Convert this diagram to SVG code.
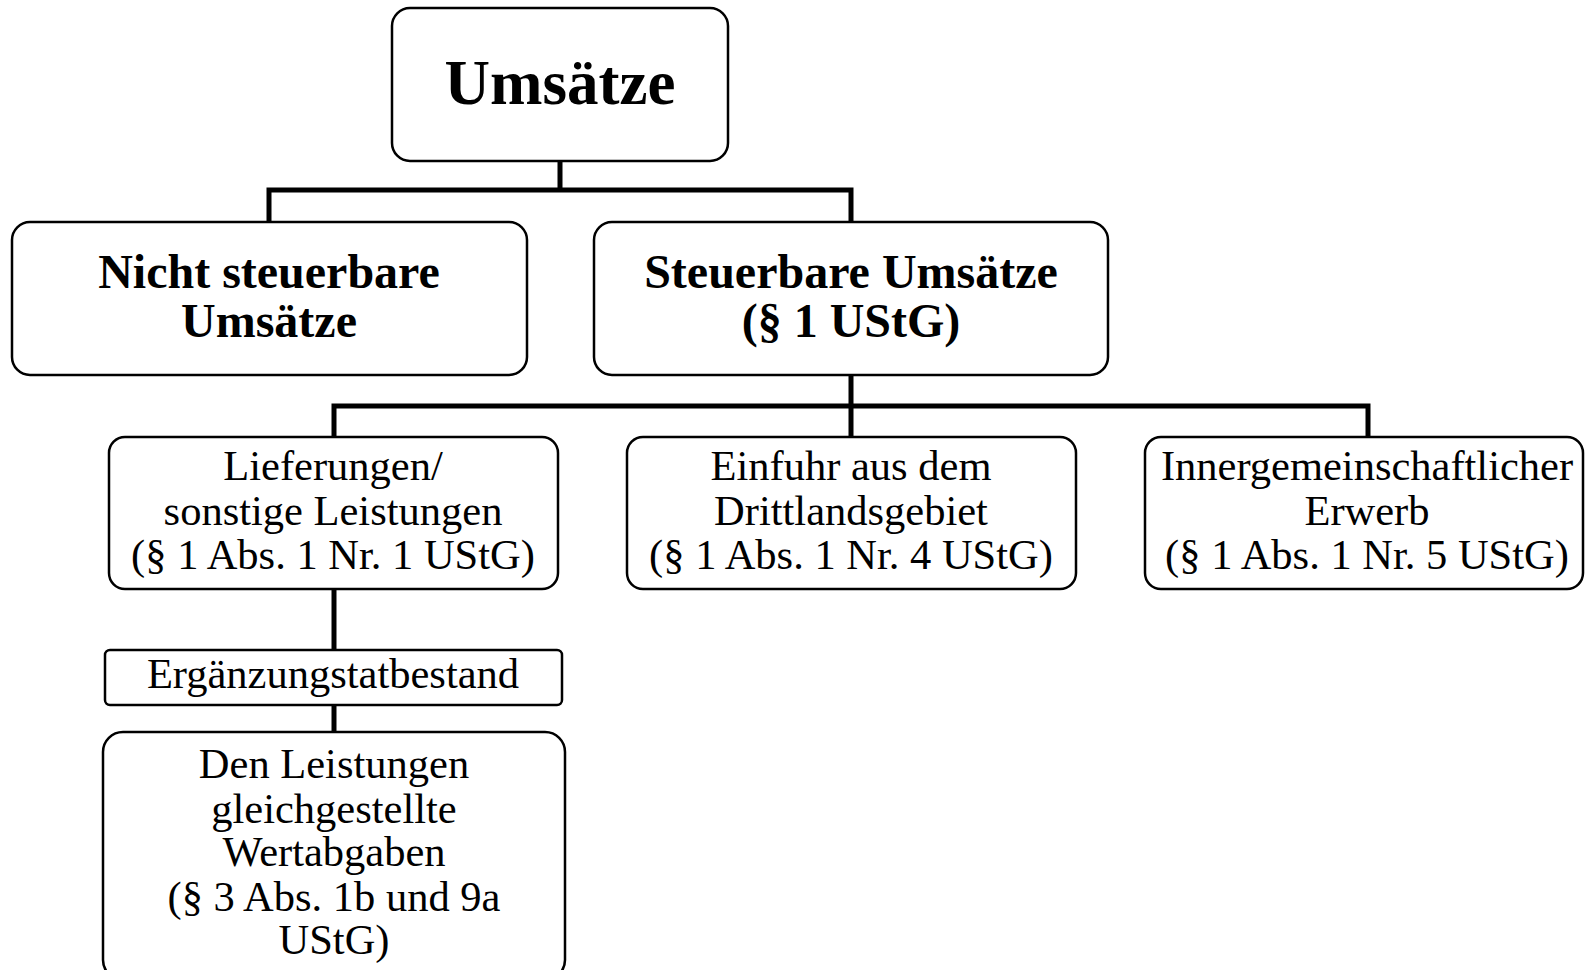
<svg xmlns="http://www.w3.org/2000/svg" width="1585" height="970" viewBox="0 0 1585 970">
  <style>
    .box { fill: #ffffff; stroke: #000000; stroke-width: 2.5; }
    .link { fill: none; stroke: #000000; stroke-width: 5; }
    text { font-family: "Liberation Serif", "Times New Roman", serif; fill: #000000; text-anchor: middle; }
    .title { font-size: 63px; font-weight: bold; }
    .head { font-size: 48px; font-weight: bold; }
    .body { font-size: 42.5px; }
  </style>

  <!-- connectors -->
  <g id="connectors">
    <path class="link" d="M560 162 V190 M269 222 V190 H851 V222"/>
    <path class="link" d="M851 375 V406 M334 437 V406 H1368 V437 M851 406 V437"/>
    <path class="link" d="M334 589 V650"/>
    <path class="link" d="M334 705 V732"/>
  </g>

  <g id="umsaetze">
    <rect class="box" x="392" y="8" width="336" height="153" rx="18"/>
    <text class="title" x="560" y="104">Umsätze</text>
  </g>

  <g id="nicht-steuerbar">
    <rect class="box" x="12" y="222" width="515" height="153" rx="18"/>
    <text class="head" x="269" y="288">Nicht steuerbare</text>
    <text class="head" x="269" y="337">Umsätze</text>
  </g>

  <g id="steuerbar">
    <rect class="box" x="594" y="222" width="514" height="153" rx="18"/>
    <text class="head" x="851" y="288">Steuerbare Umsätze</text>
    <text class="head" x="851" y="337">(§ 1 UStG)</text>
  </g>

  <g id="lieferungen">
    <rect class="box" x="109" y="437" width="449" height="152" rx="16"/>
    <text class="body" x="333" y="480">Lieferungen/</text>
    <text class="body" x="333" y="525">sonstige Leistungen</text>
    <text class="body" x="333" y="569">(§ 1 Abs. 1 Nr. 1 UStG)</text>
  </g>

  <g id="einfuhr">
    <rect class="box" x="627" y="437" width="449" height="152" rx="16"/>
    <text class="body" x="851" y="480">Einfuhr aus dem</text>
    <text class="body" x="851" y="525">Drittlandsgebiet</text>
    <text class="body" x="851" y="569">(§ 1 Abs. 1 Nr. 4 UStG)</text>
  </g>

  <g id="erwerb">
    <rect class="box" x="1145" y="437" width="438" height="152" rx="16"/>
    <text class="body" x="1367" y="480">Innergemeinschaftlicher</text>
    <text class="body" x="1367" y="525">Erwerb</text>
    <text class="body" x="1367" y="569">(§ 1 Abs. 1 Nr. 5 UStG)</text>
  </g>

  <g id="ergaenzung">
    <rect class="box" x="105" y="650" width="457" height="55" rx="5"/>
    <text class="body" x="333" y="688">Ergänzungstatbestand</text>
  </g>

  <g id="wertabgaben">
    <rect class="box" x="103" y="732" width="462" height="248" rx="20"/>
    <text class="body" x="334" y="778">Den Leistungen</text>
    <text class="body" x="334" y="823">gleichgestellte</text>
    <text class="body" x="334" y="866">Wertabgaben</text>
    <text class="body" x="334" y="911">(§ 3 Abs. 1b und 9a</text>
    <text class="body" x="334" y="954">UStG)</text>
  </g>
</svg>
